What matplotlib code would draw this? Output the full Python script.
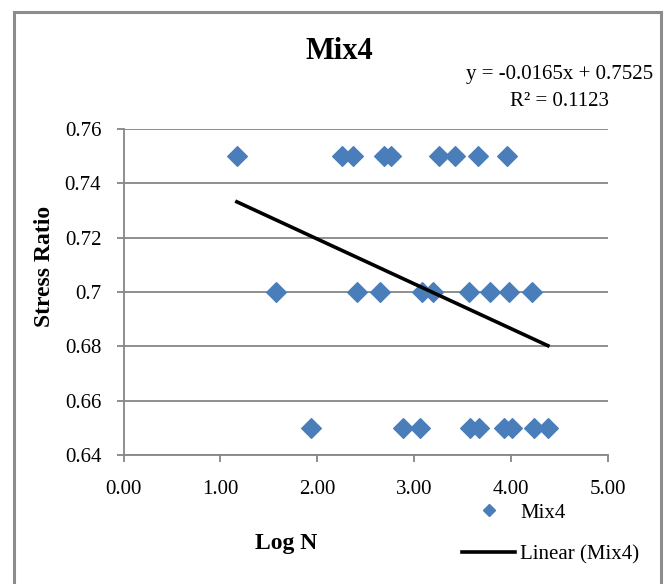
import matplotlib
matplotlib.use("Agg")
import matplotlib.pyplot as plt
from matplotlib.patches import Rectangle
import numpy as np

plt.rcParams['font.family'] = ['Liberation Serif', 'DejaVu Serif']

# donnees
log_n_075 = [1.17, 2.25, 2.37, 2.69, 2.76, 3.26, 3.42, 3.66, 3.96]
log_n_070 = [1.57, 2.41, 2.65, 3.08, 3.19, 3.57, 3.78, 3.98, 4.22]
log_n_065 = [1.93, 2.88, 3.06, 3.58, 3.67, 3.93, 4.01, 4.24, 4.38]
stress_levels = [0.75, 0.70, 0.65]

slope = -0.0165
intercept = 0.7525
r2 = 0.1123

y_ticks = [0.64, 0.66, 0.68, 0.70, 0.72, 0.74, 0.76]
y_tick_labels = ['0.64', '0.66', '0.68', '0.7', '0.72', '0.74', '0.76']
x_ticks = [0, 1, 2, 3, 4, 5]
x_tick_labels = ['0.00', '1.00', '2.00', '3.00', '4.00', '5.00']

log_n = np.array(log_n_075 + log_n_070 + log_n_065)
stress = np.array([stress_levels[0]] * len(log_n_075)
                  + [stress_levels[1]] * len(log_n_070)
                  + [stress_levels[2]] * len(log_n_065))

W, H = 667, 584
fig = plt.figure(figsize=(W / 100, H / 100), dpi=100)
ax = fig.add_axes([123.5 / W, 1 - 455 / H, (608 - 123.5) / W, (455 - 129) / H])

blue = '#4a7ebb'
grey = '#868686'

ax.scatter(log_n, stress, marker='D', s=100, color=blue, zorder=3, label='Mix4')
x_fit = np.array([log_n.min(), log_n.max()])
ax.plot(x_fit, slope * x_fit + intercept, color='black', lw=2.6, zorder=4,
        label='Linear (Mix4)')

ax.set_xlim(0, 5)
ax.set_ylim(0.64, 0.76)
ax.set_xticks(x_ticks)
ax.set_xticklabels(x_tick_labels)
ax.set_yticks(y_ticks)
ax.set_yticklabels(y_tick_labels)
ax.yaxis.grid(True, color=grey, lw=1.3)
ax.set_axisbelow(True)
for s in ['top', 'right']:
    ax.spines[s].set_visible(False)
for s in ['left', 'bottom']:
    ax.spines[s].set_color(grey)
    ax.spines[s].set_linewidth(1.3)
ax.tick_params(axis='both', direction='out', length=5, width=1.3, color=grey,
               labelsize=15)
ax.tick_params(axis='y', pad=11)
ax.tick_params(axis='x', pad=13)

# titres
fig.text(339 / W, 1 - 59 / H, 'Mix4', ha='center', va='baseline',
         fontsize=22, fontweight='bold')
fig.text(560 / W, 1 - 75 / H, 'y = -0.0165x + 0.7525', ha='center', va='center',
         fontsize=15)
fig.text(560 / W, 1 - 101 / H, 'R² = ' + str(r2), ha='center', va='center',
         fontsize=15)
fig.text(44 / W, 1 - 266 / H, 'Stress Ratio', ha='center', va='center',
         rotation=90, fontsize=17, fontweight='bold')
fig.text(286.5 / W, 1 - 544 / H, 'Log N', ha='center', va='center',
         fontsize=17, fontweight='bold')

# legende
h_pts = plt.Line2D([], [], marker='D', ls='none', color=blue, markersize=6)
h_line = plt.Line2D([], [], color='black', lw=2.6)
fig.legend([h_pts, h_line], ['Mix4', 'Linear (Mix4)'], loc='upper left',
           bbox_to_anchor=(462 / W, 1 - 503 / H), frameon=False, fontsize=15,
           borderpad=0, borderaxespad=0, handlelength=2.55, handletextpad=0.25,
           labelspacing=1.05)

# cadre
fig.patches.append(Rectangle((14 / W, -0.05), (661 - 14) / W, 1.05 - 12 / H,
                             transform=fig.transFigure, fill=False,
                             edgecolor='#8c8c8c', lw=2.2))

fig.savefig('out.png', dpi=100)
